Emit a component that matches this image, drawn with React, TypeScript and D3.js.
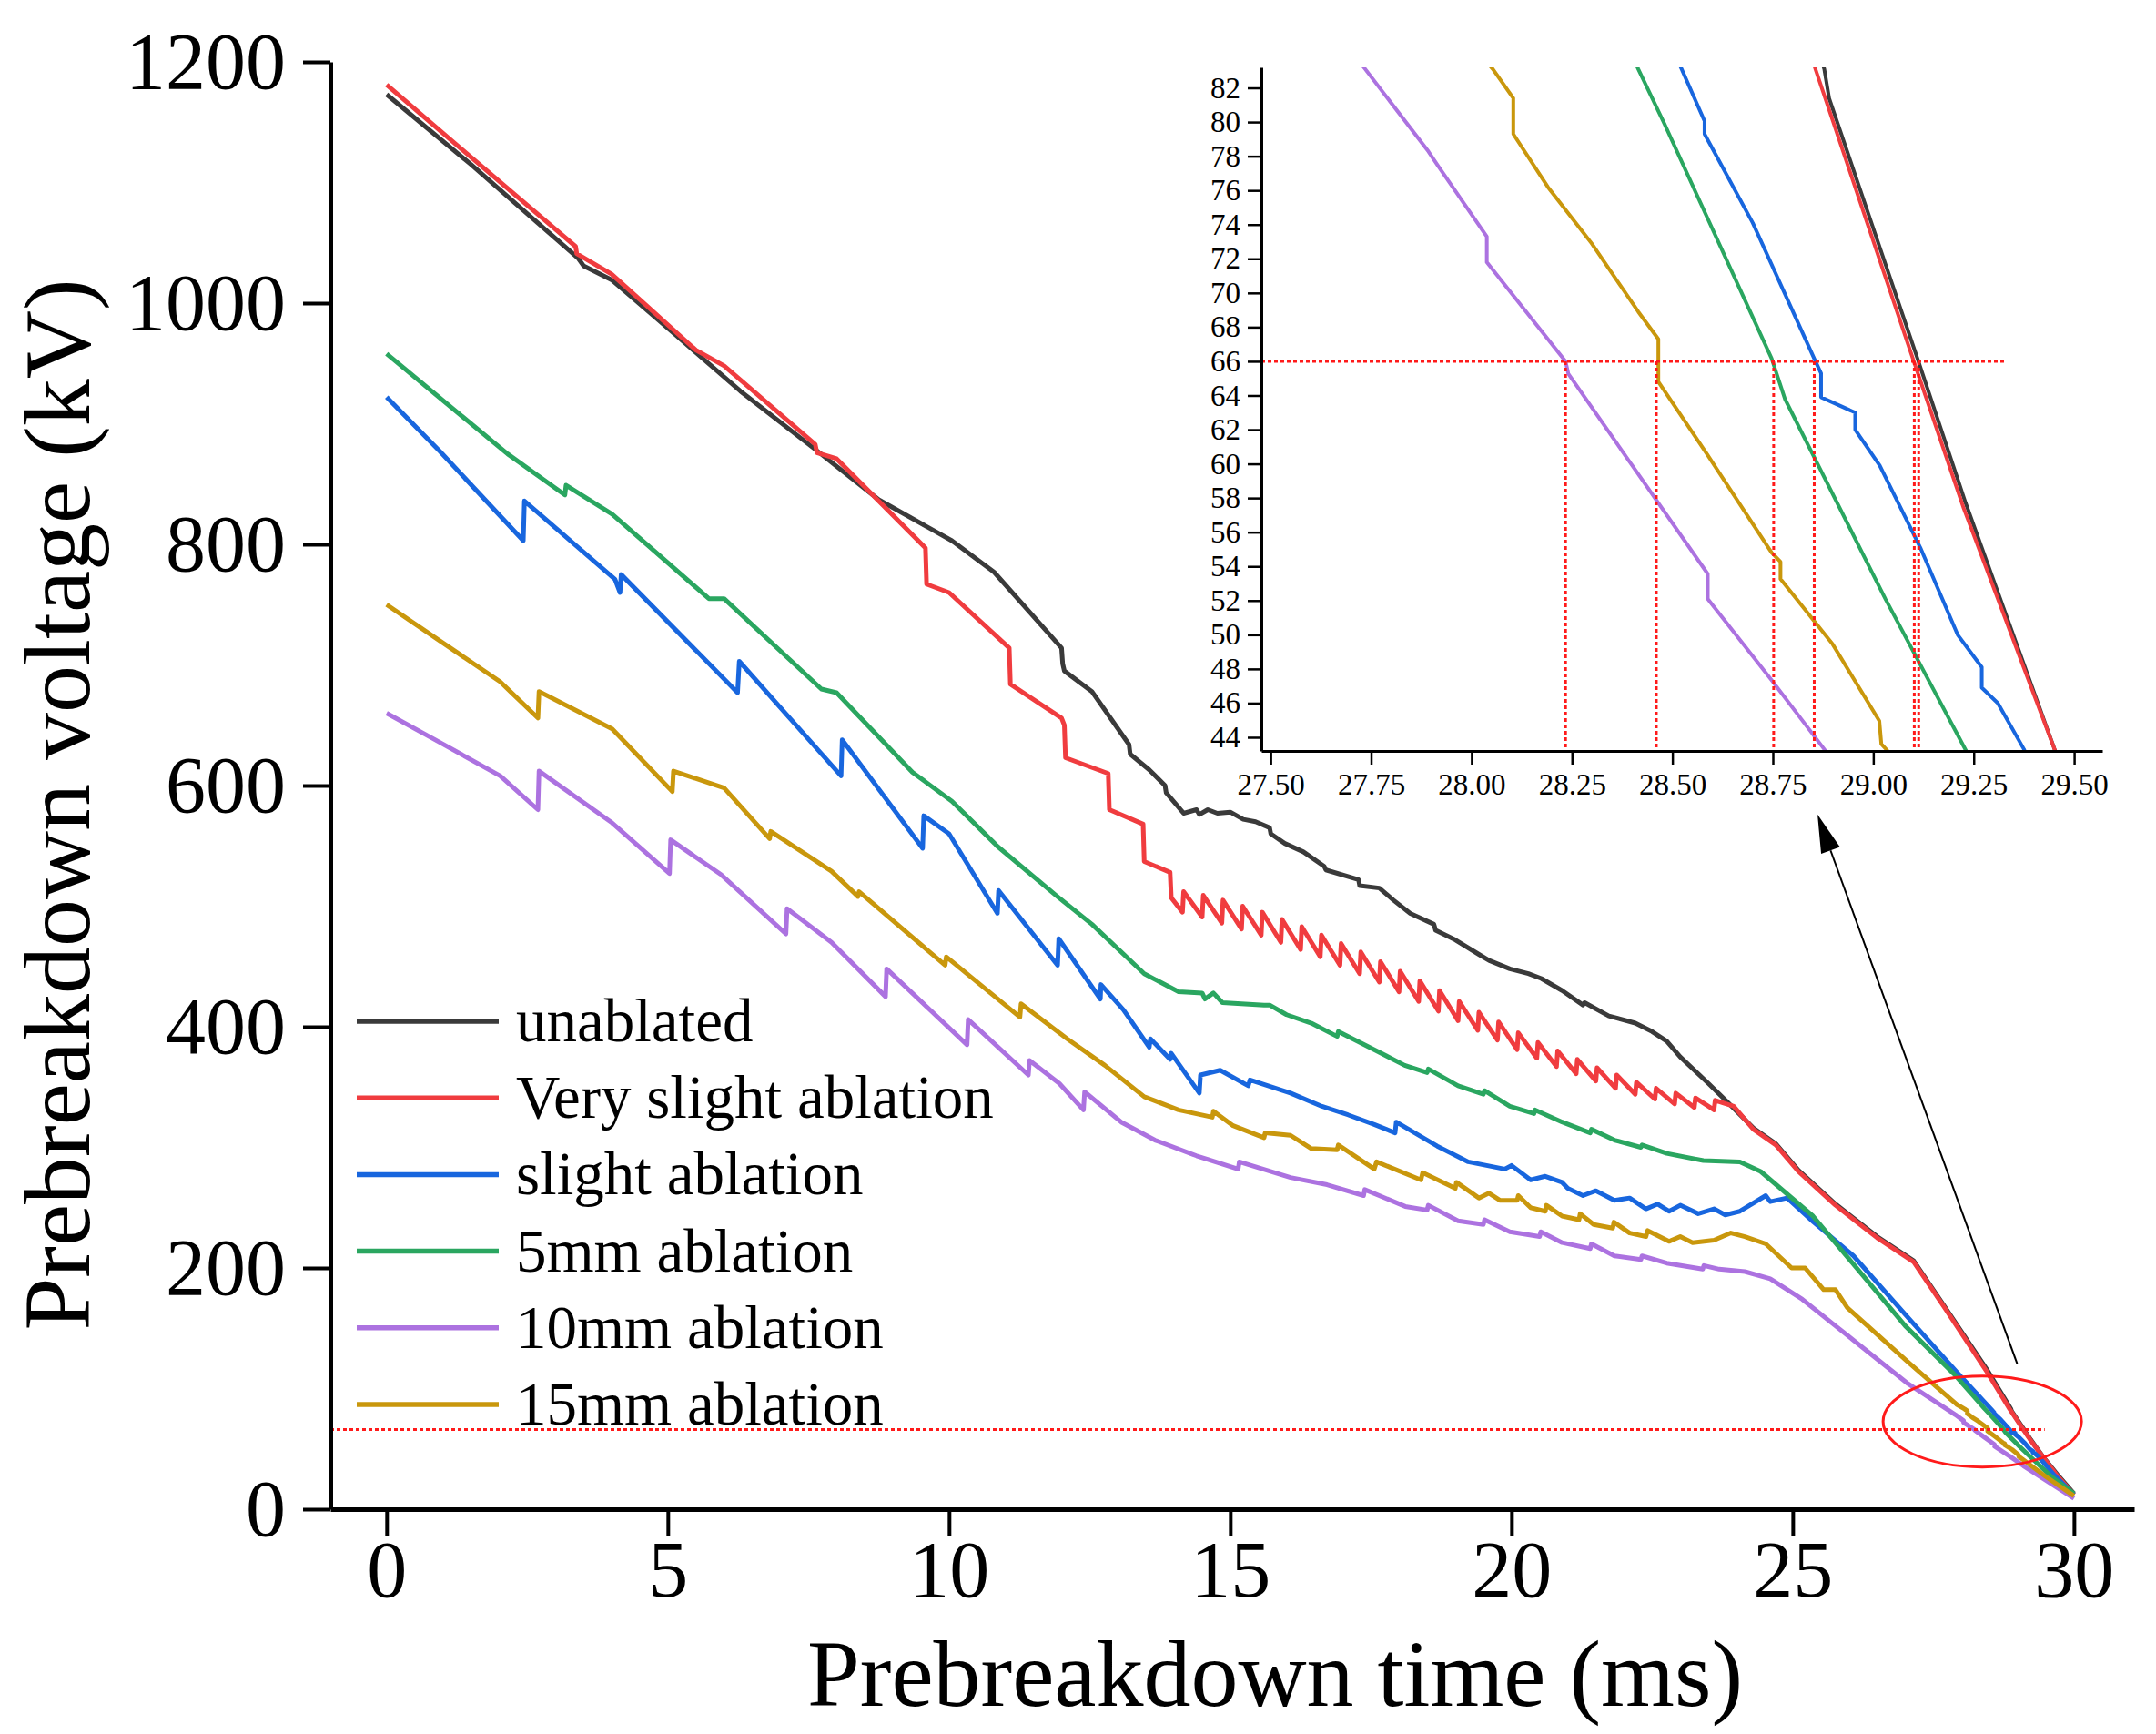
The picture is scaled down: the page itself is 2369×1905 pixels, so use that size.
import React, { useRef, useEffect } from "react";
import * as d3 from "d3";

// ── Data ──────────────────────────────────────────────────────────────────────

type Pt = [number, number]; // [time ms, voltage kV]

const SERIES_NAMES = [
  "unablated",
  "Very slight ablation",
  "slight ablation",
  "5mm ablation",
  "10mm ablation",
  "15mm ablation",
];

const SERIES_COLORS = ["#3a3a3a", "#f03c3f", "#1866de", "#2aa660", "#ac72e0", "#c9970c"];

const UNABLATED: Pt[] = [
  [0, 1173], [1.5, 1115], [3.41, 1037], [3.5, 1031], [4.01, 1019], [5.13, 974],
  [6.29, 927], [7.64, 878], [8.75, 837], [10.05, 803], [10.8, 777], [12.0, 714],
  [12.02, 701], [12.05, 695], [12.54, 678], [13.2, 634], [13.22, 626], [13.56, 613],
  [13.84, 600], [13.86, 594], [14.17, 577], [14.4, 580], [14.45, 576], [14.6, 580],
  [14.77, 577], [15.0, 578], [15.23, 572], [15.45, 570], [15.7, 565], [15.72, 560],
  [15.97, 552], [16.3, 545], [16.67, 533], [16.7, 530], [17.28, 522], [17.3, 517],
  [17.65, 515], [17.9, 505], [18.2, 494], [18.62, 485], [18.65, 480], [19.0, 472],
  [19.42, 460], [19.6, 455], [19.97, 448], [20.3, 444], [20.53, 440], [20.9, 430],
  [21.27, 418], [21.3, 420], [21.73, 409], [22.2, 403], [22.5, 396], [22.76, 388],
  [23.0, 375], [23.5, 353], [23.96, 332], [24.3, 316], [24.7, 303], [25.1, 281],
  [25.76, 253], [26.5, 226], [27.15, 206], [27.7, 168], [28.45, 116], [28.878, 83.1],
  [28.89, 81.4], [29.11, 66.16], [29.23, 57.7], [29.452, 43.25], [29.7, 29], [30, 13],
];

const VERY_SLIGHT: Pt[] = [
  [0, 1181], [1.5, 1121], [3.36, 1047], [3.38, 1041], [4.0, 1024], [5.5, 961],
  [6.0, 948], [7.62, 883], [7.65, 876], [8.0, 871], [9.58, 797], [9.6, 767],
  [10.0, 760], [11.07, 714], [11.09, 684], [12.0, 656], [12.05, 650], [12.07, 623],
  [12.83, 610], [12.85, 580], [13.45, 568], [13.47, 537], [13.93, 528], [13.95, 507],
  [14.15, 495], [14.17, 512], [14.5, 491], [14.52, 509], [14.85, 486], [14.87, 505],
  [15.2, 481], [15.22, 500], [15.55, 476], [15.57, 495], [15.9, 470], [15.92, 489],
  [16.25, 464], [16.27, 483], [16.6, 458], [16.62, 476], [16.95, 451], [16.97, 469],
  [17.3, 444], [17.32, 462], [17.65, 437], [17.67, 454], [18.0, 429], [18.02, 446],
  [18.35, 421], [18.37, 438], [18.7, 413], [18.72, 430], [19.05, 405], [19.07, 421],
  [19.4, 397], [19.42, 412], [19.75, 389], [19.77, 404], [20.1, 381], [20.12, 395],
  [20.45, 374], [20.47, 387], [20.8, 367], [20.82, 380], [21.15, 361], [21.17, 373],
  [21.5, 355], [21.52, 366], [21.85, 349], [21.87, 360], [22.2, 344], [22.22, 354],
  [22.55, 340], [22.57, 349], [22.9, 336], [22.92, 345], [23.25, 333], [23.27, 341],
  [23.6, 331], [23.62, 339], [23.95, 334], [24.3, 315], [24.7, 302], [25.1, 280],
  [25.76, 252], [26.5, 225], [27.15, 205], [27.7, 167], [28.45, 114], [28.856, 83.1],
  [29.095, 66.4], [29.225, 57.4], [29.452, 43.25], [29.7, 28], [30, 12],
];

const SLIGHT: Pt[] = [
  [0, 922], [0.95, 877], [2.43, 803], [2.45, 836], [4.06, 771], [4.15, 760],
  [4.17, 775], [6.24, 677], [6.27, 703], [8.08, 608], [8.1, 638], [9.53, 548],
  [9.55, 575], [10.0, 560], [10.86, 494], [10.88, 513], [11.93, 451], [11.95, 473],
  [12.69, 423], [12.7, 435], [13.1, 414], [13.56, 383], [13.58, 390], [13.93, 373],
  [13.95, 378], [14.45, 345], [14.47, 360], [14.82, 364], [15.32, 351], [15.35, 356],
  [16.07, 345], [16.63, 334], [17.09, 327], [17.56, 319], [17.93, 312], [17.95, 321],
  [18.68, 301], [19.23, 288], [19.88, 282], [20.0, 285], [20.34, 273], [20.6, 276],
  [20.9, 271], [21.0, 266], [21.27, 260], [21.5, 264], [21.83, 256], [22.1, 258],
  [22.39, 249], [22.6, 253], [22.8, 247], [23.0, 252], [23.32, 245], [23.6, 249],
  [23.8, 244], [24.06, 247], [24.52, 260], [24.6, 255], [24.9, 258], [25.37, 238],
  [26.08, 210], [26.99, 162], [27.91, 114], [28.523, 83.1], [28.58, 80.06], [28.58, 79.3],
  [28.7, 74.1], [28.856, 66.0], [28.87, 65.3], [28.87, 63.9], [28.955, 63.0], [28.955, 62.0],
  [29.016, 59.9], [29.117, 55.1], [29.21, 50.0], [29.27, 48.1], [29.27, 46.9], [29.31, 46.0],
  [29.375, 43.3], [29.64, 28.7], [30, 12],
];

const MM5: Pt[] = [
  [0, 958], [2.15, 875], [3.17, 841], [3.19, 849], [4.01, 825], [5.73, 755],
  [6.0, 755], [7.73, 680], [8.0, 677], [9.35, 611], [10.05, 587], [10.81, 552],
  [10.85, 550], [11.9, 509], [12.54, 485], [13.47, 444], [14.08, 429], [14.5, 428],
  [14.55, 423], [14.7, 428], [14.86, 420], [15.6, 418], [15.7, 418], [16.0, 410],
  [16.44, 403], [16.9, 392], [16.92, 396], [17.56, 381], [18.1, 368], [18.5, 362],
  [18.52, 365], [19.05, 351], [19.5, 344], [19.52, 347], [19.97, 334], [20.4, 328],
  [20.42, 331], [20.9, 321], [21.4, 312], [21.42, 315], [21.83, 306], [22.3, 300],
  [22.32, 302], [22.76, 295], [23.41, 289], [24.06, 288], [24.43, 280], [25.36, 243],
  [26.1, 202], [27.0, 152], [27.87, 112], [28.415, 83.1], [28.48, 79.9], [28.747, 66.16],
  [28.78, 63.8], [29.03, 52.1], [29.23, 43.25], [29.6, 27], [30, 13],
];

const MM10: Pt[] = [
  [0, 660], [0.86, 638], [2.02, 608], [2.69, 580], [2.71, 612], [4.01, 569],
  [5.03, 527], [5.05, 555], [5.95, 526], [7.1, 477], [7.12, 498], [7.91, 470],
  [8.87, 425], [8.89, 448], [10.32, 385], [10.34, 406], [11.41, 360], [11.43, 372],
  [11.96, 353], [12.39, 331], [12.41, 346], [13.06, 321], [13.66, 306], [14.4, 293],
  [15.14, 282], [15.16, 288], [16.07, 275], [16.72, 269], [17.37, 260], [17.39, 265],
  [18.11, 251], [18.5, 248], [18.52, 252], [19.05, 239], [19.5, 236], [19.52, 240],
  [19.97, 230], [20.5, 226], [20.52, 230], [20.9, 221], [21.4, 216], [21.42, 220],
  [21.83, 210], [22.3, 207], [22.32, 210], [22.76, 204], [23.4, 199], [23.42, 202],
  [23.69, 199], [24.15, 197], [24.6, 191], [25.17, 174], [25.76, 152], [27.05, 104],
  [27.734, 83.14], [27.893, 78.27], [27.915, 77.5], [28.038, 73.3], [28.038, 71.8],
  [28.234, 66.0], [28.241, 65.27], [28.4, 59.9], [28.588, 53.56], [28.588, 52.1],
  [28.747, 47.34], [28.878, 43.3], [29.1, 36], [30, 9],
];

const MM15: Pt[] = [
  [0, 750], [2.02, 686], [2.69, 656], [2.71, 678], [4.01, 647], [5.08, 595],
  [5.1, 612], [6.0, 598], [6.81, 556], [6.83, 562], [7.91, 529], [8.38, 508],
  [8.4, 512], [9.93, 451], [9.95, 458], [11.26, 408], [11.28, 419], [12.1, 390],
  [12.77, 368], [13.47, 342], [14.08, 331], [14.68, 325], [14.7, 330], [15.05, 318],
  [15.6, 308], [15.62, 312], [16.07, 310], [16.44, 299], [16.9, 298], [16.92, 302],
  [17.56, 282], [17.6, 288], [18.39, 273], [18.42, 279], [19.0, 266], [19.02, 271],
  [19.42, 258], [19.6, 262], [19.8, 256], [20.1, 256], [20.12, 260], [20.34, 250],
  [20.6, 247], [20.62, 252], [20.9, 243], [21.2, 240], [21.22, 245], [21.46, 236],
  [21.8, 233], [21.82, 238], [22.1, 229], [22.39, 226], [22.42, 231], [22.8, 222],
  [23.0, 226], [23.22, 221], [23.6, 223], [23.9, 229], [24.15, 226], [24.52, 220],
  [24.98, 200], [25.22, 200], [25.55, 182], [25.76, 182], [25.97, 167], [27.05, 122],
  [27.91, 87], [28.053, 83.1], [28.104, 81.4], [28.104, 79.3], [28.19, 76.2], [28.299, 72.9],
  [28.415, 68.9], [28.465, 67.3], [28.465, 64.8], [28.588, 60.5], [28.747, 54.8], [28.769, 54.27],
  [28.769, 53.26], [28.899, 49.44], [29.015, 44.96], [29.02, 43.6], [29.034, 43.25],
  [29.5, 27], [30, 11],
];

const SERIES: Pt[][] = [UNABLATED, VERY_SLIGHT, SLIGHT, MM5, MM10, MM15];

const X_TICKS = [0, 5, 10, 15, 20, 25, 30];
const Y_TICKS = [0, 200, 400, 600, 800, 1000, 1200];
const INSET_X_TICKS = [27.5, 27.75, 28.0, 28.25, 28.5, 28.75, 29.0, 29.25, 29.5];
const INSET_Y_TICKS = [44, 46, 48, 50, 52, 54, 56, 58, 60, 62, 64, 66, 68, 70, 72, 74, 76, 78, 80, 82];

// annotations
const MARK_KV = 66;
const MAIN_MARK_END = 29.48;
const INSET_MARK_END = 29.326;
const CROSS_TIMES = [28.234, 28.46, 28.752, 28.853, 29.102, 29.113];
const ELLIPSE = { t: 28.37, v: 72.7, rt: 1.764, rv: 37.7 };
const ARROW_FROM: Pt = [28.99, 120.6];
const ARROW_TO: Pt = [25.44, 576];

// ── Layout ────────────────────────────────────────────────────────────────────

const W = 2369;
const H = 1905;
const FONT = "'Liberation Serif', 'Times New Roman', serif";

function styleAxis(
  g: d3.Selection<SVGGElement, unknown, null, undefined>,
  domainW: number,
  tickW: number,
  fontSize: number
) {
  g.attr("font-family", FONT).attr("font-size", fontSize);
  g.select(".domain").attr("stroke", "#000").attr("stroke-width", domainW);
  g.selectAll(".tick line").attr("stroke", "#000").attr("stroke-width", tickW);
  g.selectAll(".tick text").attr("fill", "#000");
}

function midpoints(ticks: number[]) {
  return ticks.slice(1).map((t, i) => (t + ticks[i]) / 2);
}

export default function App() {
  const svgRef = useRef<SVGSVGElement>(null);

  useEffect(() => {
    document.body.style.margin = "0";
    if (!svgRef.current) return;
    const svg = d3.select(svgRef.current);
    svg.selectAll("*").remove();

    // Scales
    const x = d3.scaleLinear().domain([-1, 31.07]).range([363, 2345]);
    const y = d3.scaleLinear().domain([0, 1200]).range([1658, 68]);
    const xi = d3.scaleLinear().domain([27.477, 29.57]).range([1386, 2310]);
    const yi = d3.scaleLinear().domain([43.2, 83.2]).range([825, 74]);

    svg.append("rect").attr("width", W).attr("height", H).attr("fill", "#fff");

    // Main curves
    const line = d3
      .line<Pt>()
      .x((d) => x(d[0]))
      .y((d) => y(d[1]));

    SERIES.forEach((s, i) => {
      svg
        .append("path")
        .datum(s)
        .attr("d", line)
        .attr("fill", "none")
        .attr("stroke", SERIES_COLORS[i])
        .attr("stroke-width", 5)
        .attr("stroke-linejoin", "round");
    });

    // 66 kV marker line
    svg
      .append("line")
      .attr("x1", x(-1))
      .attr("x2", x(MAIN_MARK_END))
      .attr("y1", y(MARK_KV))
      .attr("y2", y(MARK_KV))
      .attr("stroke", "#ff1a1a")
      .attr("stroke-width", 3)
      .attr("stroke-dasharray", "4,3");

    // Ellipse highlight
    svg
      .append("ellipse")
      .attr("cx", x(ELLIPSE.t))
      .attr("cy", y(ELLIPSE.v))
      .attr("rx", x(ELLIPSE.t + ELLIPSE.rt) - x(ELLIPSE.t))
      .attr("ry", y(ELLIPSE.v - ELLIPSE.rv) - y(ELLIPSE.v))
      .attr("fill", "none")
      .attr("stroke", "#ff1a1a")
      .attr("stroke-width", 3);

    // Arrow
    const sx = x(ARROW_FROM[0]);
    const sy = y(ARROW_FROM[1]);
    const tx = x(ARROW_TO[0]);
    const ty = y(ARROW_TO[1]);
    const len = Math.hypot(tx - sx, ty - sy);
    const ux = (tx - sx) / len;
    const uy = (ty - sy) / len;
    const bx = tx - ux * 42;
    const by = ty - uy * 42;
    svg
      .append("line")
      .attr("x1", sx)
      .attr("y1", sy)
      .attr("x2", bx)
      .attr("y2", by)
      .attr("stroke", "#000")
      .attr("stroke-width", 2);
    svg
      .append("polygon")
      .attr(
        "points",
        [
          [tx, ty],
          [bx - uy * 11, by + ux * 11],
          [bx + uy * 11, by - ux * 11],
        ]
          .map((p) => p.join(","))
          .join(" ")
      )
      .attr("fill", "#000");

    // Main axes
    const gy = svg.append("g").attr("transform", `translate(${x(-1)},0)`);
    gy.call(
      d3.axisLeft(y).tickValues(midpoints(Y_TICKS)).tickSize(15).tickSizeOuter(0).tickFormat(() => "")
    );
    gy.select(".domain").remove();
    gy.call(
      d3.axisLeft(y).tickValues(Y_TICKS).tickSize(30).tickSizeOuter(0).tickPadding(19).tickFormat(d3.format("d"))
    );
    styleAxis(gy, 5, 4, 88);

    const gx = svg.append("g").attr("transform", `translate(0,${y(0)})`);
    gx.call(
      d3.axisBottom(x).tickValues(midpoints(X_TICKS)).tickSize(15).tickSizeOuter(0).tickFormat(() => "")
    );
    gx.select(".domain").remove();
    gx.call(d3.axisBottom(x).tickValues(X_TICKS).tickSize(30).tickSizeOuter(0).tickFormat(d3.format("d")));
    styleAxis(gx, 5, 4, 88);
    gx.selectAll(".tick text").attr("y", 34);

    // Axis titles
    svg
      .append("text")
      .attr("x", 1401)
      .attr("y", 1874)
      .attr("text-anchor", "middle")
      .attr("font-family", FONT)
      .attr("font-size", 104)
      .text("Prebreakdown time (ms)");
    svg
      .append("text")
      .attr("transform", `translate(98,884) rotate(-90)`)
      .attr("text-anchor", "middle")
      .attr("font-family", FONT)
      .attr("font-size", 104)
      .text("Prebreakdown voltage (kV)");

    // Legend
    SERIES_NAMES.forEach((name, i) => {
      const ly = 1122 + i * 84.2;
      svg
        .append("line")
        .attr("x1", 392)
        .attr("x2", 548)
        .attr("y1", ly)
        .attr("y2", ly)
        .attr("stroke", SERIES_COLORS[i])
        .attr("stroke-width", 5.5);
      svg
        .append("text")
        .attr("x", 567)
        .attr("y", ly + 22)
        .attr("font-family", FONT)
        .attr("font-size", 67)
        .attr("fill", "#000")
        .text(name);
    });

    // ── Inset ──
    const [ix0, ix1] = xi.range();
    const [iy0, iy1] = yi.range();
    svg
      .append("clipPath")
      .attr("id", "inset-clip")
      .append("rect")
      .attr("x", ix0)
      .attr("y", iy1)
      .attr("width", ix1 - ix0)
      .attr("height", iy0 - iy1);

    const inset = svg.append("g").attr("clip-path", "url(#inset-clip)");
    const lineI = d3
      .line<Pt>()
      .x((d) => xi(d[0]))
      .y((d) => yi(d[1]));
    SERIES.forEach((s, i) => {
      inset
        .append("path")
        .datum(s)
        .attr("d", lineI)
        .attr("fill", "none")
        .attr("stroke", SERIES_COLORS[i])
        .attr("stroke-width", 4)
        .attr("stroke-linejoin", "round");
    });

    inset
      .append("line")
      .attr("x1", ix0)
      .attr("x2", xi(INSET_MARK_END))
      .attr("y1", yi(MARK_KV))
      .attr("y2", yi(MARK_KV))
      .attr("stroke", "#ff1a1a")
      .attr("stroke-width", 3)
      .attr("stroke-dasharray", "4,3");
    CROSS_TIMES.forEach((t) => {
      inset
        .append("line")
        .attr("x1", xi(t))
        .attr("x2", xi(t))
        .attr("y1", yi(MARK_KV))
        .attr("y2", iy0)
        .attr("stroke", "#ff1a1a")
        .attr("stroke-width", 3)
        .attr("stroke-dasharray", "4,3");
    });

    const giy = svg.append("g").attr("transform", `translate(${ix0},0)`);
    const insetYMinor = d3.range(44, 84, 1).filter((v) => v % 2 === 1);
    giy.call(d3.axisLeft(yi).tickValues(insetYMinor).tickSize(8).tickSizeOuter(0).tickFormat(() => ""));
    giy.select(".domain").remove();
    giy.call(
      d3.axisLeft(yi).tickValues(INSET_Y_TICKS).tickSize(15).tickSizeOuter(0).tickPadding(8).tickFormat(d3.format("d"))
    );
    styleAxis(giy, 3, 2.5, 33);

    const gix = svg.append("g").attr("transform", `translate(0,${iy0})`);
    gix.call(
      d3
        .axisBottom(xi)
        .tickValues(midpoints(INSET_X_TICKS).concat([29.625]).filter((t) => t < 29.57))
        .tickSize(8)
        .tickSizeOuter(0)
        .tickFormat(() => "")
    );
    gix.select(".domain").remove();
    gix.call(
      d3.axisBottom(xi).tickValues(INSET_X_TICKS).tickSize(15).tickSizeOuter(0).tickPadding(10).tickFormat(d3.format(".2f"))
    );
    styleAxis(gix, 3, 2.5, 33);
  }, []);

  return <svg ref={svgRef} width={W} height={H} style={{ display: "block" }} />;
}
